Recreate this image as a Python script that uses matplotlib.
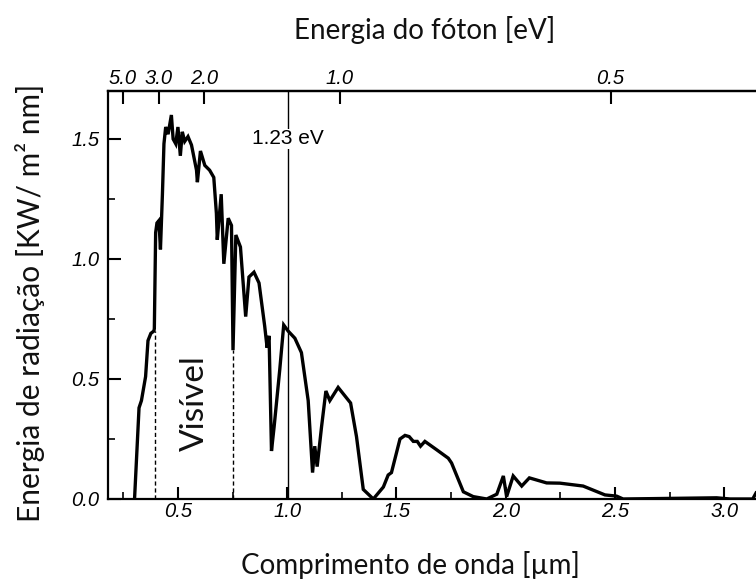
import numpy as np
import matplotlib
matplotlib.use('Agg')
import matplotlib.pyplot as plt
from matplotlib.ticker import MultipleLocator, FixedLocator, FixedFormatter

# spectrum: wavelength [um], irradiance [KW/m2 nm]
wavelength = [0.302, 0.322, 0.333, 0.352, 0.363, 0.376, 0.390, 0.392, 0.398, 0.404,
              0.413, 0.420, 0.429, 0.436, 0.444, 0.455, 0.470, 0.478, 0.490, 0.500,
              0.511, 0.520, 0.531, 0.546, 0.562, 0.585, 0.589, 0.603, 0.623, 0.645,
              0.664, 0.676, 0.680, 0.698, 0.710, 0.730, 0.745, 0.752, 0.765, 0.786,
              0.810, 0.825, 0.848, 0.871, 0.897, 0.908, 0.917, 0.928, 0.940, 0.966,
              0.984, 1.004, 1.035, 1.065, 1.096, 1.116, 1.126, 1.137, 1.157, 1.177,
              1.195, 1.233, 1.290, 1.317, 1.348, 1.394, 1.440, 1.462, 1.477, 1.516,
              1.539, 1.558, 1.577, 1.595, 1.610, 1.630, 1.684, 1.737, 1.752, 1.806,
              1.851, 1.913, 1.959, 1.989, 2.004, 2.034, 2.073, 2.108, 2.187, 2.248,
              2.354, 2.454, 2.507, 2.537, 2.965, 3.026, 3.130, 3.145]
irradiance = [0.01, 0.38, 0.41, 0.51, 0.66, 0.69, 0.70, 0.71, 1.11, 1.15,
              1.16, 1.04, 1.27, 1.48, 1.55, 1.52, 1.60, 1.50, 1.48, 1.55,
              1.43, 1.53, 1.49, 1.51, 1.475, 1.37, 1.32, 1.45, 1.39, 1.37,
              1.34, 1.19, 1.08, 1.27, 0.98, 1.17, 1.14, 0.62, 1.10, 1.05,
              0.76, 0.925, 0.945, 0.90, 0.72, 0.63, 0.68, 0.20, 0.30, 0.54,
              0.725, 0.70, 0.67, 0.61, 0.41, 0.11, 0.22, 0.135, 0.30, 0.45,
              0.41, 0.465, 0.40, 0.26, 0.04, 0.00, 0.05, 0.10, 0.11, 0.25,
              0.265, 0.26, 0.24, 0.24, 0.22, 0.24, 0.205, 0.17, 0.15, 0.03,
              0.01, 0.00, 0.02, 0.096, 0.01, 0.096, 0.054, 0.088, 0.067, 0.066,
              0.054, 0.017, 0.012, 0.0, 0.005, 0.0, 0.0, 0.025]

# visible band limits (dashed) and where they meet the curve
visible_x = [0.395, 0.752]
visible_top = [0.70, 0.62]
band_gap_x = 1.003          # 1.23 eV
ev_ticks = [5.0, 3.0, 2.0, 1.0, 0.5]

label_font = 'Lato'
tick_font = 'Liberation Sans'

fig = plt.figure(figsize=(7.56, 5.83), dpi=100)
ax = fig.add_axes([108/756, 1 - 499/583, 1 - 108/756, 408/583])

ax.plot(wavelength, irradiance, color='black', lw=2.4, solid_joinstyle='miter')

for x, top in zip(visible_x, visible_top):
    ax.plot([x, x], [0, top], color='black', lw=1.0, ls=(0, (3, 2)))

ax.axvline(band_gap_x, color='black', lw=1.0)
ax.text(band_gap_x, 1.5, '1.23 eV', ha='center', va='center', fontsize=15,
        family=tick_font, bbox=dict(facecolor='white', edgecolor='none', pad=0.5))

ax.text(0.578, 0.40, 'Visível', rotation=90, ha='center', va='center',
        fontsize=24, family=label_font, color='#111111')

ax.set_xlim(0.18, 3.145)
ax.set_ylim(0, 1.70)

ax.xaxis.set_major_locator(MultipleLocator(0.5))
ax.xaxis.set_minor_locator(MultipleLocator(0.25))
ax.yaxis.set_major_locator(MultipleLocator(0.5))
ax.yaxis.set_minor_locator(MultipleLocator(0.25))
ax.xaxis.set_major_formatter(plt.FuncFormatter(lambda v, p: f'{v:.1f}'))
ax.yaxis.set_major_formatter(plt.FuncFormatter(lambda v, p: f'{v:.1f}'))

ax.tick_params(which='major', direction='in', length=9, width=1.5)
ax.tick_params(which='minor', direction='in', length=5, width=1.2)
ax.tick_params(axis='x', which='major', pad=2)
ax.tick_params(axis='y', which='major', pad=6)
for lab in ax.get_xticklabels() + ax.get_yticklabels():
    lab.set_fontfamily(tick_font)
    lab.set_fontstyle('italic')
    lab.set_fontsize(14.5)

for s in ['left', 'bottom', 'top']:
    ax.spines[s].set_linewidth(1.6)
ax.spines['right'].set_visible(False)


def to_ev(x):
    x = np.asarray(x, dtype=float)
    with np.errstate(divide='ignore', invalid='ignore'):
        return 1.2398 / x


sec = ax.secondary_xaxis('top', functions=(to_ev, to_ev))
sec.xaxis.set_major_locator(FixedLocator(ev_ticks))
sec.xaxis.set_major_formatter(FixedFormatter([f'{v:.1f}' for v in ev_ticks]))
sec.xaxis.set_minor_locator(FixedLocator([]))
sec.tick_params(direction='in', length=9, width=1.5, pad=2)
sec.spines['top'].set_linewidth(1.6)
for lab in sec.get_xticklabels():
    lab.set_fontfamily(tick_font)
    lab.set_fontstyle('italic')
    lab.set_fontsize(14.5)

fig.text(425/756, 1 - 30/583, 'Energia do fóton [eV]', ha='center', va='center',
         fontsize=20, family=label_font, color='#111111')
fig.text(410/756, 1 - 565/583, 'Comprimento de onda [µm]', ha='center', va='center',
         fontsize=20, family=label_font, color='#111111')
fig.text(30/756, 1 - 303/583, 'Energia de radiação [KW/ m² nm]', rotation=90,
         ha='center', va='center', fontsize=21.5, family=label_font, color='#111111')

fig.savefig('out.png', dpi=100)
